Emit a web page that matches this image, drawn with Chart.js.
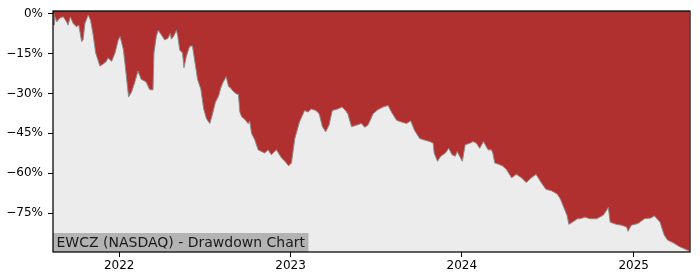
<!DOCTYPE html>
<html>
<head>
<meta charset="utf-8">
<script src="https://cdn.jsdelivr.net/npm/chart.js@4/dist/chart.umd.min.js"></script>
<style>
  html, body { margin: 0; padding: 0; background: #ffffff; }
  #wrap { width: 700px; height: 280px; }
</style>
</head>
<body>
<div id="wrap"><canvas id="c" width="700" height="280"></canvas></div>
<script>
// ---- data ----
const dates = [
  '2021-08-13','2021-08-15','2021-08-18','2021-08-21','2021-08-28','2021-09-04','2021-09-11','2021-09-14','2021-09-19','2021-09-25',
  '2021-10-02','2021-10-07','2021-10-13','2021-10-16','2021-10-20','2021-10-27','2021-11-01','2021-11-06','2021-11-12','2021-11-21',
  '2021-11-28','2021-12-05','2021-12-08','2021-12-16','2021-12-23','2021-12-30','2022-01-03','2022-01-10','2022-01-14','2022-01-20',
  '2022-01-21','2022-01-27','2022-02-03','2022-02-10','2022-02-17','2022-02-24','2022-02-28','2022-03-07','2022-03-14','2022-03-16',
  '2022-03-21','2022-03-25','2022-04-01','2022-04-08','2022-04-15','2022-04-20','2022-04-22','2022-04-27','2022-05-03','2022-05-06',
  '2022-05-10','2022-05-16','2022-05-19','2022-05-24','2022-05-31','2022-06-06','2022-06-10','2022-06-17','2022-06-24','2022-06-30',
  '2022-07-06','2022-07-13','2022-07-18','2022-07-25','2022-08-01','2022-08-05','2022-08-10','2022-08-17','2022-08-22','2022-08-25',
  '2022-09-01','2022-09-08','2022-09-12','2022-09-15','2022-09-19','2022-09-26','2022-10-03','2022-10-06','2022-10-10','2022-10-17',
  '2022-10-24','2022-10-31','2022-11-07','2022-11-14','2022-11-21','2022-12-02','2022-12-13','2022-12-20','2022-12-28','2023-01-03',
  '2023-01-10','2023-01-20','2023-01-31','2023-02-07','2023-02-14','2023-02-24','2023-03-03','2023-03-10','2023-03-17','2023-03-24',
  '2023-03-31','2023-04-12','2023-04-21','2023-04-28','2023-05-03','2023-05-11','2023-05-22','2023-06-01','2023-06-08','2023-06-15',
  '2023-06-26','2023-07-06','2023-07-17','2023-07-28','2023-08-04','2023-08-15','2023-08-25','2023-09-05','2023-09-14','2023-09-22',
  '2023-10-03','2023-10-13','2023-10-25','2023-11-01','2023-11-03','2023-11-10','2023-11-17','2023-11-27','2023-12-04','2023-12-11',
  '2023-12-18','2023-12-22','2024-01-02','2024-01-08','2024-01-18','2024-01-25','2024-02-01','2024-02-08','2024-02-16','2024-02-26',
  '2024-03-04','2024-03-07','2024-03-11','2024-03-21','2024-03-28','2024-04-05','2024-04-16','2024-04-26','2024-05-07','2024-05-17',
  '2024-05-28','2024-06-07','2024-06-18','2024-06-28','2024-07-10','2024-07-22','2024-07-29','2024-08-05','2024-08-12','2024-08-16',
  '2024-08-26','2024-09-03','2024-09-09','2024-09-19','2024-09-30','2024-10-14','2024-10-28','2024-11-04','2024-11-08','2024-11-12',
  '2024-11-25','2024-12-06','2024-12-17','2024-12-20','2024-12-27','2025-01-10','2025-01-24','2025-02-07','2025-02-14','2025-02-26',
  '2025-03-07','2025-03-14','2025-03-26','2025-04-09','2025-04-24','2025-04-30'
];
const drawdown = [
  0, -4.3, -1.2, -3.1, -1.5, -1.2, -3.1, -4.3, -1.2, -3.7,
  -4.9, -4.3, -10.5, -9.9, -3.7, -0.5, -2.5, -7.4, -14.8, -19.7,
  -18.9, -17.9, -16.6, -17.9, -14.8, -9.9, -8.6, -13.6, -19.7, -29.6,
  -31.2, -29.6, -25.9, -21.6, -24.7, -25.3, -25.9, -28.6, -28.6, -14.8,
  -8.6, -6.2, -8.0, -9.9, -9.2, -7.4, -9.6, -8.5, -6.2, -8.6,
  -13.7, -14.8, -20.3, -16.0, -12.3, -12.1, -16.6, -24.7, -28.4, -35.8,
  -39.5, -41.3, -38.2, -33.3, -30.8, -28.1, -25.9, -23.7, -27.4, -27.7,
  -29.2, -30.2, -30.3, -37.0, -38.8, -39.8, -41.4, -40.3, -45.0, -47.5,
  -51.2, -51.8, -52.4, -51.2, -53.0, -51.2, -54.3, -55.5, -57.2, -56.1,
  -47.0, -40.7, -36.4, -37.0, -35.8, -36.4, -37.6, -42.5, -44.4, -41.9,
  -36.4, -35.8, -35.1, -36.4, -37.6, -42.5, -41.9, -41.3, -42.7, -41.9,
  -37.6, -36.1, -35.1, -34.5, -37.0, -40.1, -40.7, -41.3, -40.3, -43.8,
  -46.9, -47.5, -48.1, -48.7, -52.4, -55.5, -53.6, -52.4, -50.6, -53.0,
  -53.6, -51.8, -55.5, -49.3, -48.7, -48.1, -48.7, -50.6, -48.1, -51.2,
  -51.2, -52.4, -56.1, -56.7, -57.3, -58.6, -61.7, -60.4, -61.7, -63.5,
  -61.7, -60.4, -63.5, -66.0, -66.6, -67.8, -69.7, -72.8, -75.8, -79.2,
  -78.1, -77.1, -77.1, -76.5, -77.1, -77.1, -75.8, -74.0, -72.8, -78.4,
  -79.2, -79.5, -80.2, -81.8, -79.5, -78.9, -77.1, -76.8, -76.0, -78.3,
  -83.2, -85.1, -86.1, -87.6, -88.8, -89.2
];
const yTickValues = [0, -15, -30, -45, -60, -75];
const xTickYears = [2022, 2023, 2024, 2025];
const chartLabel = 'EWCZ (NASDAQ) - Drawdown Chart';

// ---- helpers ----
const DAY = 86400000;
const toDay = s => Date.parse(s + 'T00:00:00Z') / DAY;
const points = dates.map((d, i) => ({ x: toDay(d), y: drawdown[i] }));
const xTickDays = xTickYears.map(y => Date.UTC(y, 0, 1) / DAY);
const dayToYear = d => new Date(d * DAY).getUTCFullYear();

const FONT = "'DejaVu Sans', sans-serif";

const bgPlugin = {
  id: 'areaBg',
  beforeDatasetsDraw(chart) {
    const { ctx, chartArea: a } = chart;
    ctx.save();
    ctx.fillStyle = '#ececec';
    ctx.fillRect(a.left, a.top, a.right - a.left, a.bottom - a.top);
    ctx.restore();
  },
  afterDraw(chart) {
    const { ctx, chartArea: a } = chart;
    ctx.save();
    // label box
    ctx.font = '14px ' + FONT;
    const tw = ctx.measureText(chartLabel).width;
    const bh = 19;
    ctx.fillStyle = '#b3b3b3';
    ctx.fillRect(a.left, a.bottom - bh, tw + 7, bh);
    ctx.fillStyle = '#1a1a1a';
    ctx.textBaseline = 'middle';
    ctx.textAlign = 'left';
    ctx.fillText(chartLabel, a.left + 3.5, a.bottom - bh / 2 + 0.5);
    // frame
    ctx.strokeStyle = '#000000';
    ctx.lineWidth = 1.25;
    ctx.strokeRect(a.left, a.top, a.right - a.left, a.bottom - a.top);
    ctx.restore();
  }
};

new Chart(document.getElementById('c'), {
  type: 'line',
  data: {
    datasets: [{
      data: points,
      borderColor: '#8a8a8a',
      borderWidth: 1,
      backgroundColor: '#b03030',
      fill: 'end',
      pointRadius: 0,
      tension: 0
    }]
  },
  options: {
    responsive: false,
    animation: false,
    devicePixelRatio: 1,
    layout: { padding: { left: 0, right: 10, top: 7, bottom: 0 } },
    plugins: { legend: { display: false }, tooltip: { enabled: false } },
    scales: {
      x: {
        type: 'linear',
        min: points[0].x,
        max: points[points.length - 1].x + 1,
        afterBuildTicks(s) { s.ticks = xTickDays.map(v => ({ value: v })); },
        afterFit(s) { s.height = 28; },
        ticks: {
          callback: v => String(dayToYear(v)),
          color: '#000',
          font: { family: FONT, size: 12, lineHeight: 1 },
          padding: 3,
          maxRotation: 0,
          autoSkip: false
        },
        grid: { drawOnChartArea: false, tickLength: 5, tickColor: '#000', tickWidth: 1 },
        border: { display: false }
      },
      y: {
        type: 'linear',
        min: -89.6,
        max: 1,
        afterBuildTicks(s) { s.ticks = yTickValues.map(v => ({ value: v })); },
        afterFit(s) { s.width = 53; },
        ticks: {
          callback: v => (v === 0 ? '0%' : '\u2212' + Math.abs(v) + '%'),
          color: '#000',
          font: { family: FONT, size: 12, lineHeight: 1 },
          padding: 5,
          autoSkip: false
        },
        grid: { drawOnChartArea: false, tickLength: 5, tickColor: '#000', tickWidth: 1 },
        border: { display: false }
      }
    }
  },
  plugins: [bgPlugin]
});
</script>
</body>
</html>
